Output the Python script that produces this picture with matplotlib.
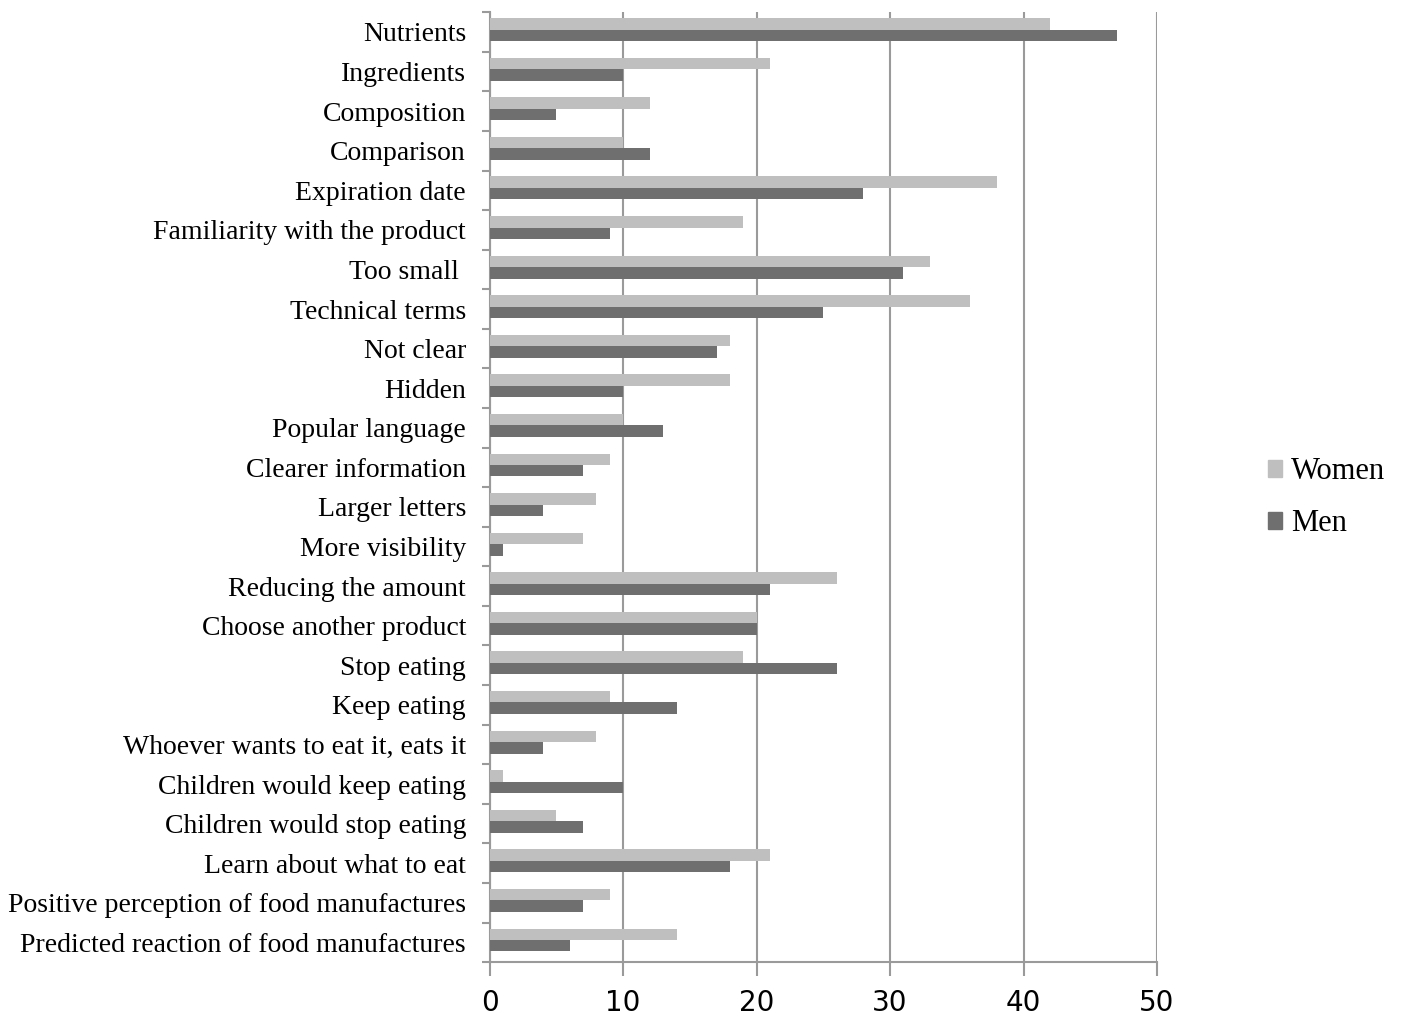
import numpy as np
import matplotlib.pyplot as plt
from matplotlib.patches import Patch

categories = [
    "Nutrients", "Ingredients", "Composition", "Comparison", "Expiration date",
    "Familiarity with the product", "Too small ", "Technical terms", "Not clear",
    "Hidden", "Popular language", "Clearer information", "Larger letters",
    "More visibility", "Reducing the amount", "Choose another product",
    "Stop eating", "Keep eating", "Whoever wants to eat it, eats it",
    "Children would keep eating", "Children would stop eating",
    "Learn about what to eat", "Positive perception of food manufactures",
    "Predicted reaction of food manufactures",
]
women = [42, 21, 12, 10, 38, 19, 33, 36, 18, 18, 10, 9, 8, 7, 26, 20, 19, 9, 8, 1, 5, 21, 9, 14]
men = [47, 10, 5, 12, 28, 9, 31, 25, 17, 10, 13, 7, 4, 1, 21, 20, 26, 14, 4, 10, 7, 18, 7, 6]
xticks = [0, 10, 20, 30, 40, 50]

c_women = "#bfbfbf"
c_men = "#6f6f6f"
c_axis = "#9a9a9a"

fig = plt.figure(figsize=(14.03, 10.16), dpi=100)
ax = fig.add_axes([0.349, 0.053, 0.4757, 0.935])

y = np.arange(len(categories))
h = 0.29
ax.barh(y - h / 2 - 0.06, women, height=h, color=c_women, zorder=3)
ax.barh(y + h / 2 - 0.06, men, height=h, color=c_men, zorder=3)

ax.set_ylim(len(categories) - 0.5, -0.5)
ax.set_xlim(0, 50)
ax.set_xticks(xticks)
ax.set_xticklabels([str(t) for t in xticks], fontsize=20, family="DejaVu Sans")
ax.set_yticks(y)
ax.set_yticklabels(categories, fontsize=20, family="Liberation Serif")
ax.set_yticks(np.arange(len(categories) + 1) - 0.5, minor=True)
ax.tick_params(axis="y", which="major", length=0, pad=17)
ax.tick_params(axis="y", which="minor", length=6, color=c_axis, width=1.5)
ax.tick_params(axis="x", length=10, color=c_axis, width=1.5, pad=9)

ax.grid(axis="x", color=c_axis, linewidth=1.5, zorder=0)
for side in ["top", "right"]:
    ax.spines[side].set_visible(False)
for side in ["left", "bottom"]:
    ax.spines[side].set_color(c_axis)
    ax.spines[side].set_linewidth(1.5)

handles = [Patch(color=c_women, label="Women"), Patch(color=c_men, label="Men")]
fig.legend(handles=handles, loc="center left", bbox_to_anchor=(0.884, 0.51),
           frameon=False, prop={"family": "Liberation Serif", "size": 22},
           handlelength=0.45, handleheight=0.45, handletextpad=0.3, labelspacing=0.75)

fig.savefig("out.png", dpi=100)
